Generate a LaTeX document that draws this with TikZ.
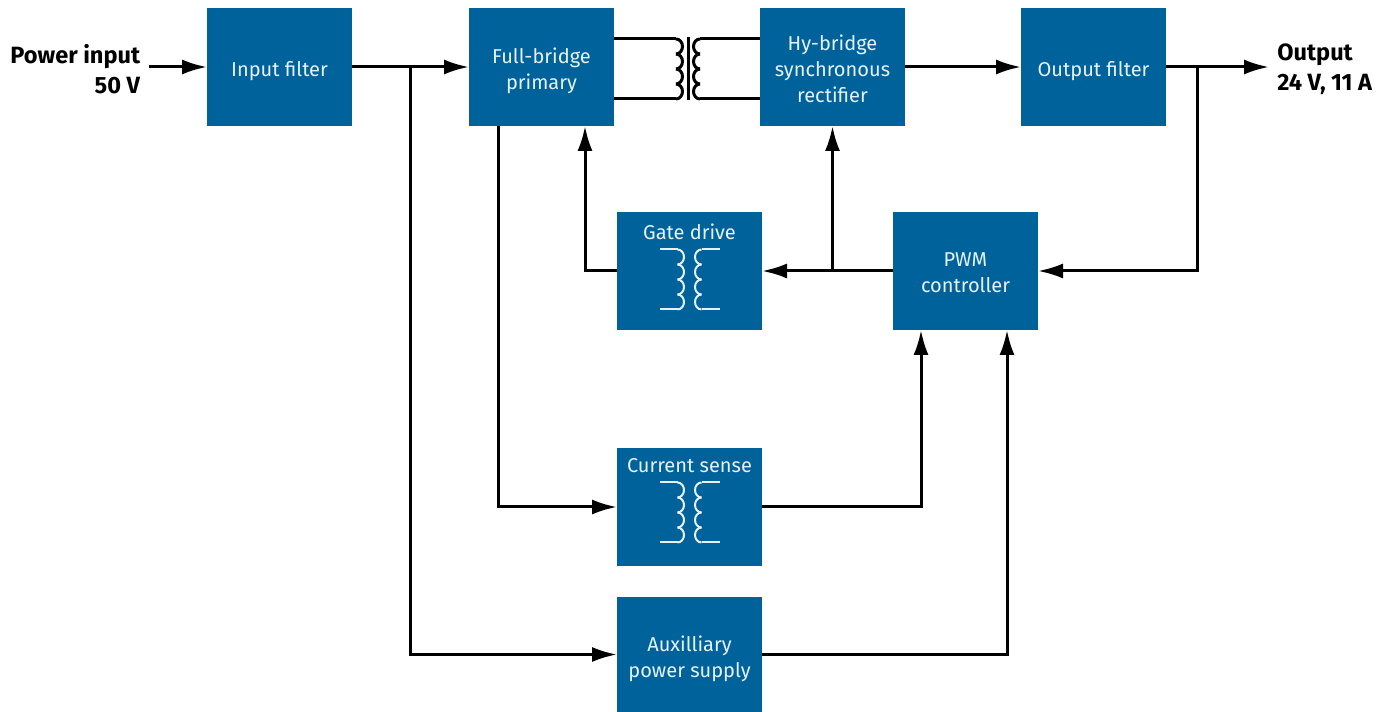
\documentclass[tikz,border=0pt]{standalone}
\usepackage{fontspec}
\setmainfont{Fira Sans}
\usetikzlibrary{arrows.meta, positioning, calc}
\definecolor{blockblue}{HTML}{00629B}
\definecolor{blocktext}{HTML}{E6F2F8}
\newcommand{\topgap}[1]{\rule{0pt}{#1}}

\begin{document}
\begin{tikzpicture}[
    blockbox/.style={rectangle, fill=blockblue, text=blocktext, text centered, align=center, minimum width=2.9cm, minimum height=2.36cm, inner sep=0pt, outer sep=0pt, font=\fontsize{11.4}{15}\selectfont},
    blocklabel/.style={anchor=north, text=blocktext, yshift=-0.3cm, inner sep=0pt, font=\fontsize{11.4}{15}\selectfont},
    portlabel/.style={inner xsep=0.16cm, font=\fontsize{13.4}{17}\selectfont\bfseries},
    wire/.style={draw=black, line width=0.06cm},
    arrow/.style={wire, -{Latex[length=0.5cm,width=0.3cm]}},
    whitecoil/.style={draw=blocktext, line width=0.04cm},
    coilpair/.pic={
        \coordinate (-lt) at (-0.24,0.6);
        \coordinate (-lb) at (-0.24,-0.6);
        \coordinate (-rt) at (0.24,0.6);
        \coordinate (-rb) at (0.24,-0.6);
        \foreach \k in {0,...,3} {
            \draw[pic actions] (-0.24,0.6-0.3*\k) arc[start angle=90, end angle=-90, x radius=0.13, y radius=0.15];
            \draw[pic actions] (0.24,0.6-0.3*\k) arc[start angle=90, end angle=270, x radius=0.13, y radius=0.15];
        }
    }
]
    \useasboundingbox (0,0) rectangle (27.62,-14.24);

    % Top row
    \node (fin) [blockbox] at (5.59,-1.34) {\topgap{13pt}Input filter};
    \node (fb) [blockbox, right=2.34cm of fin] {\topgap{13pt}Full-bridge\\primary};
    \node (hb) [blockbox, right=2.92cm of fb] {\topgap{11pt}Hy-bridge\\synchronous\\rectifier};
    \node (fout) [blockbox, right=2.32cm of hb] {\topgap{13pt}Output filter};

    % Ports
    \node (pin) [portlabel, align=right, anchor=east] at (2.97,-1.38) {Power input\\50 V};
    \node (pout) [portlabel, align=left, anchor=west] at (25.38,-1.38) {Output\\24 V, 11 A};

    % Control blocks
    \node (gd) [blockbox, below right=1.72cm and 0.06cm of fb, label={[blocklabel, yshift=0.06cm]north:Gate drive}] {};
    \node (pwm) [blockbox, right=2.62cm of gd] {\topgap{10pt}PWM\\controller};
    \node (cs) [blockbox, below=2.36cm of gd, label={[blocklabel, yshift=0.1cm]north:Current sense}] {};
    \node (aux) [blockbox, below=0.62cm of cs, minimum height=2.3cm] {\topgap{14pt}Auxilliary\\power supply};

    % Main transformer
    \pic (tx) [wire] at ([xshift=1.48cm,yshift=-0.04cm]fb.east) {coilpair};
    \coordinate (core_top) at ($(tx-lt)!0.5!(tx-rt)+(0,0.03)$);
    \coordinate (core_bot) at ($(tx-lb)!0.5!(tx-rb)+(0,-0.03)$);
    \draw [wire] (core_top) -- (core_bot);
    \draw [wire] (tx-lt -| fb.east) -- (tx-lt);
    \draw [wire] (tx-lb -| fb.east) -- (tx-lb);
    \draw [wire] (tx-rt -| hb.west) -- (tx-rt);
    \draw [wire] (tx-rb -| hb.west) -- (tx-rb);

    % Small transformers
    \pic (gdc) [whitecoil] at ([yshift=-0.17cm]gd.center) {coilpair};
    \pic (csc) [whitecoil] at ([yshift=-0.11cm]cs.center) {coilpair};
    \foreach \c in {gdc,csc} {
        \draw [whitecoil] (\c-lt) -- ++(-0.36,0);
        \draw [whitecoil] (\c-lb) -- ++(-0.36,0);
        \draw [whitecoil] (\c-rt) -- ++(0.36,0);
        \draw [whitecoil] (\c-rb) -- ++(0.36,0);
    }

    % Power path
    \draw [arrow] (pin.east |- fin.west) -- (fin.west);
    \draw [arrow] (fin) -- (fb);
    \draw [arrow] (hb) -- (fout);
    \draw [arrow] (fout.east) -- (pout.west |- fout.east);

    % Branches
    \draw [arrow] ([xshift=1.16cm]fin.east) |- (aux.west);
    \draw [arrow] ([xshift=-0.87cm]fb.south) |- (cs.west);
    \draw [arrow] (gd.west) -| ([xshift=0.87cm]fb.south);
    \draw [arrow] (pwm.west) -- (gd.east);
    \draw [arrow] (pwm.west -| hb.south) -- (hb.south);
    \draw [arrow] ([xshift=0.62cm]fout.east) |- (pwm.east);
    \draw [arrow] (cs.east) -| ([xshift=-0.89cm]pwm.south);
    \draw [arrow] (aux.east) -| ([xshift=0.83cm]pwm.south);
\end{tikzpicture}
\end{document}
